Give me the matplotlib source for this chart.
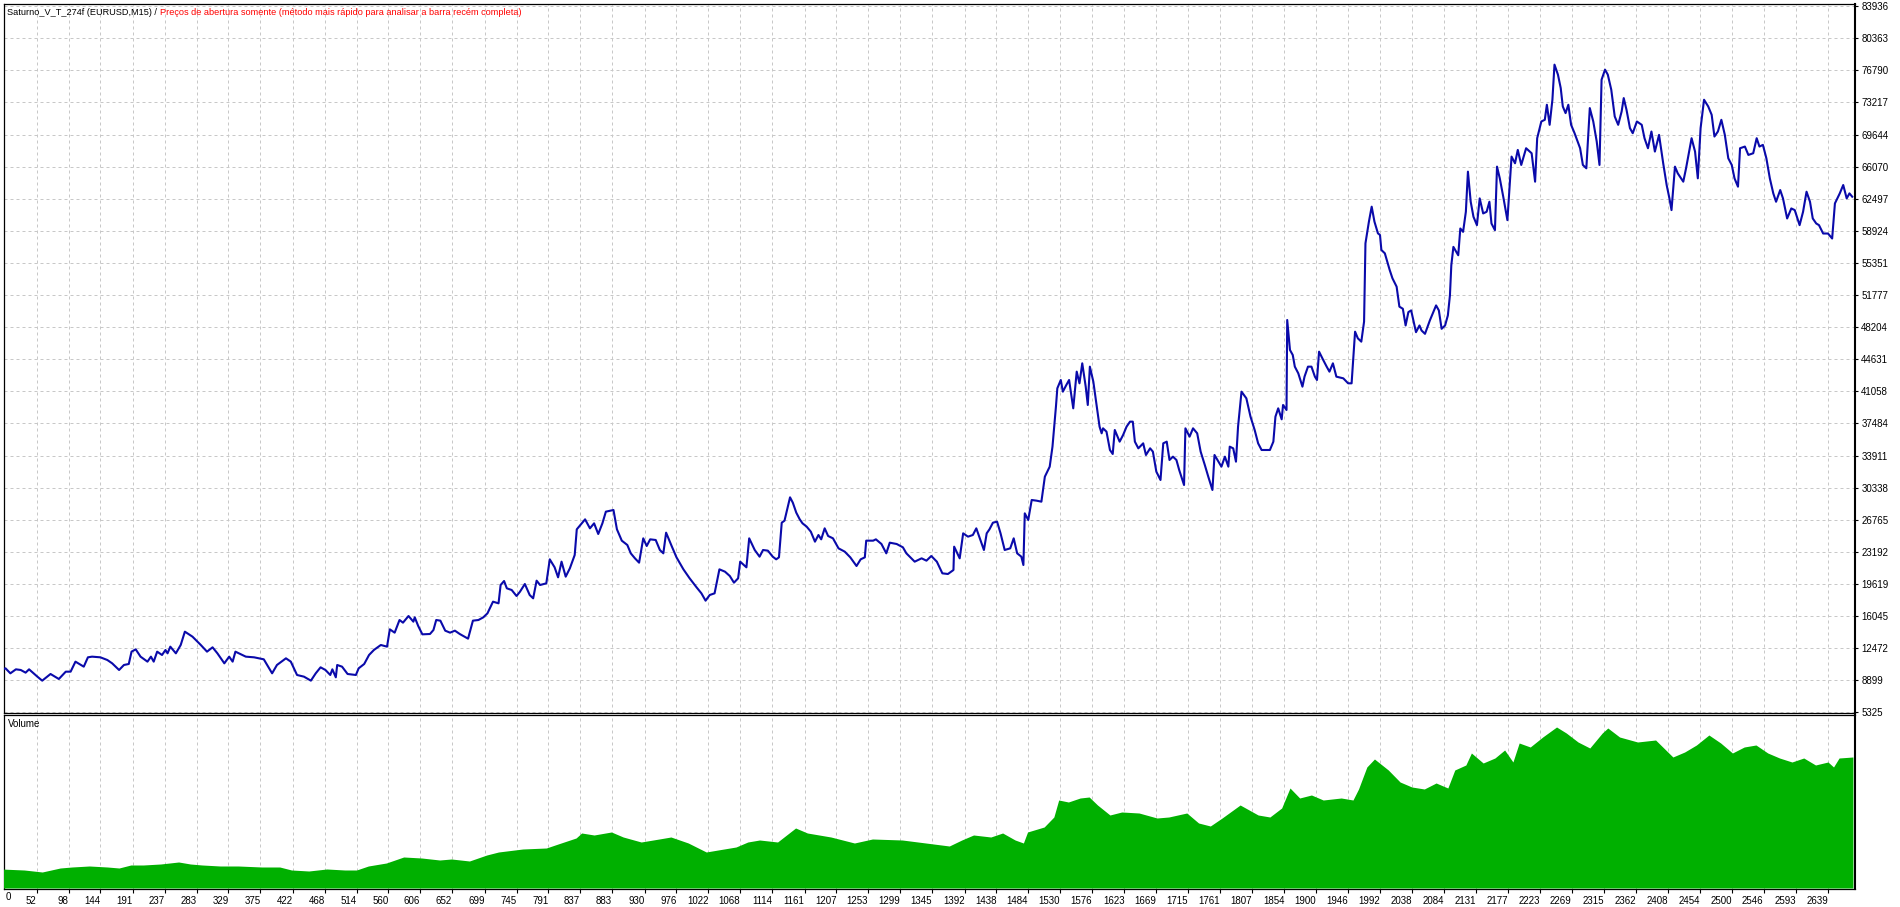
import matplotlib
matplotlib.use('Agg')
import matplotlib.pyplot as plt

plt.rcParams['font.family'] = ['Liberation Sans', 'DejaVu Sans']

trades = [0, 7, 14, 22, 29, 36, 41, 53, 60, 72, 84, 94, 101, 108, 120, 126, 132, 144, 154, 161,
          171, 178, 185, 189, 195, 202, 212, 217, 221, 226, 233, 238, 241, 245, 253, 260, 266, 277, 289, 298,
          306, 313, 323, 330, 335, 339, 354, 366, 380, 392, 399, 412, 419, 428, 438, 448, 455, 462, 469, 476,
          479, 484, 486, 493, 501, 513, 517, 525, 532, 539, 549, 558, 562, 569, 576, 581, 589, 596, 598, 603,
          609, 620, 625, 629, 635, 642, 649, 656, 663, 675, 682, 690, 697, 703, 711, 719, 722, 727, 731, 738,
          745, 750, 757, 764, 769, 774, 779, 788, 793, 800, 805, 810, 816, 822, 829, 832, 844, 851, 857, 863,
          869, 874, 885, 890, 897, 905, 910, 916, 922, 928, 933, 938, 946, 952, 957, 961, 969, 976, 986, 995,
          1005, 1012, 1018, 1024, 1031, 1038, 1046, 1053, 1059, 1065, 1068, 1077, 1081, 1089, 1096, 1101, 1108, 1115, 1120, 1124,
          1128, 1132, 1140, 1144, 1149, 1154, 1158, 1164, 1170, 1176, 1181, 1185, 1190, 1195, 1202, 1210, 1219, 1227, 1236, 1242,
          1248, 1250, 1260, 1264, 1272, 1279, 1284, 1294, 1303, 1308, 1320, 1330, 1337, 1344, 1352, 1360, 1368, 1376, 1377, 1385,
          1390, 1397, 1404, 1409, 1415, 1420, 1424, 1428, 1433, 1439, 1444, 1450, 1458, 1463, 1468, 1474, 1477, 1479, 1484, 1489,
          1496, 1503, 1508, 1515, 1519, 1524, 1526, 1531, 1534, 1539, 1543, 1549, 1554, 1558, 1562, 1567, 1570, 1573, 1578, 1582,
          1587, 1590, 1592, 1597, 1602, 1606, 1609, 1616, 1621, 1626, 1631, 1635, 1638, 1643, 1650, 1654, 1660, 1664, 1669, 1675,
          1679, 1684, 1688, 1693, 1698, 1702, 1709, 1711, 1717, 1722, 1728, 1733, 1739, 1744, 1750, 1753, 1763, 1768, 1773, 1775,
          1780, 1784, 1787, 1792, 1799, 1805, 1811, 1816, 1821, 1833, 1838, 1841, 1845, 1850, 1852, 1857, 1858, 1862, 1866, 1869,
          1874, 1880, 1883, 1888, 1893, 1898, 1901, 1904, 1910, 1915, 1919, 1924, 1929, 1939, 1946, 1951, 1956, 1960, 1965, 1969,
          1971, 1976, 1980, 1984, 1989, 1992, 1994, 1999, 2006, 2010, 2016, 2020, 2025, 2029, 2033, 2037, 2044, 2049, 2052, 2057,
          2064, 2073, 2077, 2081, 2086, 2090, 2093, 2095, 2098, 2105, 2108, 2112, 2116, 2119, 2123, 2127, 2132, 2136, 2141, 2146,
          2150, 2153, 2158, 2161, 2165, 2170, 2176, 2179, 2182, 2187, 2191, 2196, 2203, 2211, 2216, 2219, 2225, 2230, 2233, 2237,
          2241, 2244, 2249, 2253, 2256, 2260, 2264, 2268, 2273, 2281, 2285, 2290, 2295, 2300, 2305, 2309, 2312, 2317, 2321, 2326,
          2331, 2336, 2341, 2344, 2348, 2353, 2357, 2363, 2370, 2374, 2379, 2384, 2389, 2395, 2401, 2406, 2410, 2413, 2418, 2422,
          2430, 2434, 2442, 2447, 2451, 2455, 2460, 2466, 2471, 2475, 2480, 2485, 2490, 2495, 2500, 2504, 2509, 2512, 2519, 2524,
          2531, 2536, 2540, 2545, 2550, 2555, 2560, 2564, 2570, 2574, 2580, 2586, 2591, 2598, 2603, 2608, 2613, 2617, 2622, 2626,
          2632, 2639, 2645, 2649, 2656, 2661, 2666, 2670, 2674]
saldo = [10000, 10232, 9675, 10120, 10046, 9749, 10120, 9304, 8859, 9601, 9044, 9860, 9860, 10974, 10417, 11456, 11530, 11456, 11159, 10788,
         10046, 10603, 10714, 12087, 12346, 11530, 10974, 11530, 10974, 12087, 11716, 12272, 11901, 12643, 11901, 12829, 14312, 13756, 12829, 12087,
         12569, 11901, 10788, 11530, 10974, 12087, 11530, 11456, 11233, 9675, 10603, 11345, 10974, 9490, 9304, 8859, 9675, 10343, 10046, 9490,
         10120, 9230, 10603, 10417, 9601, 9490, 10232, 10714, 11716, 12272, 12829, 12643, 14571, 14200, 15610, 15313, 16055, 15424, 15907, 14942,
         14015, 14052, 14497, 15610, 15536, 14423, 14200, 14423, 14052, 13532, 15536, 15610, 15907, 16352, 17650, 17465, 19505, 19951, 19135, 18949,
         18281, 18763, 19617, 18392, 18021, 19988, 19505, 19691, 22362, 21472, 20359, 22103, 20433, 21360, 22844, 25701, 26814, 25813, 26369, 25182,
         26369, 27668, 27853, 25701, 24440, 23958, 23030, 22474, 21991, 24699, 23846, 24588, 24514, 23401, 23030, 25330, 23846, 22585, 21249, 20248,
         19246, 18578, 17762, 18392, 18578, 21249, 20990, 20507, 19765, 20248, 22103, 21472, 24699, 23401, 22659, 23401, 23327, 22659, 22362, 22585,
         26443, 26666, 29263, 28669, 27556, 26814, 26369, 26002, 25442, 24329, 25070, 24588, 25812, 24959, 24700, 23587, 23216, 22585, 21620, 22362,
         22585, 24440, 24440, 24588, 24069, 23030, 24217, 24069, 23698, 23030, 22103, 22474, 22214, 22733, 22103, 20804, 20730, 21175, 23772, 22474,
         25256, 24885, 25070, 25812, 24514, 23401, 25256, 25701, 26443, 26555, 25256, 23401, 23587, 24700, 23030, 22659, 21731, 27482, 26740, 28966,
         28892, 28780, 31563, 32676, 34902, 39354, 41395, 42323, 41024, 41765, 42323, 39169, 43251, 41952, 44178, 41581, 39540, 43807, 42138, 39912,
         37129, 36387, 36944, 36573, 34532, 34087, 36758, 35460, 36202, 37129, 37686, 37686, 35460, 34718, 35274, 33976, 34718, 34347, 32121, 31193,
         35274, 35460, 33419, 33790, 33419, 32306, 30637, 36944, 36016, 36944, 36387, 34347, 32862, 31564, 30080, 33977, 32677, 33790, 32677, 34903,
         34718, 33233, 37129, 41025, 40283, 38242, 36758, 35274, 34532, 34532, 35460, 38242, 39169, 37945, 39540, 38984, 49001, 45662, 45106, 43807,
         43065, 41581, 42694, 43807, 43807, 42694, 42323, 45477, 44549, 43807, 43251, 44178, 42694, 42508, 41952, 41952, 47702, 46961, 46589, 48816,
         57534, 59946, 61615, 59946, 58647, 58462, 56792, 56421, 54566, 53639, 52711, 50485, 50252, 48391, 49880, 50066, 47646, 48391, 47833, 47461,
         48950, 50624, 50066, 48019, 48391, 49508, 51741, 55090, 57138, 56207, 59185, 58812, 61046, 65512, 62162, 60487, 59557, 62534, 60860, 61046,
         62162, 59743, 58999, 66070, 64768, 62721, 60115, 63651, 67187, 66443, 67931, 66257, 68117, 67559, 64395, 69234, 71095, 71281, 72956, 70723,
         73514, 77422, 76306, 74817, 72770, 72026, 72956, 70723, 69792, 68117, 66257, 65884, 72584, 71095, 68862, 66257, 75748, 76864, 76306, 74631,
         71653, 70723, 72212, 73700, 72398, 70351, 69792, 71095, 70723, 69234, 68117, 69978, 67745, 69606, 66443, 64023, 62534, 61232, 66070, 65326,
         64395, 65884, 69234, 67745, 64768, 70351, 73514, 72770, 71839, 69420, 69978, 71281, 69606, 66999, 66257, 64768, 63837, 68117, 68304, 67373,
         67559, 69234, 68304, 68490, 66999, 64768, 63093, 62162, 63465, 62534, 60301, 61418, 61232, 59557, 61046, 63279, 62162, 60301, 59743, 59557,
         58627, 58627, 58069, 61977, 63093, 64023, 62534, 63093, 62721]

# volume (lotes) por trade
vol_trades = [0, 34, 60, 86, 103, 128, 154, 171, 188, 206, 231, 257, 274, 291, 317, 343, 377, 403, 420, 445,
              471, 497, 514, 531, 557, 582, 608, 634, 651, 677, 702, 719, 754, 788, 805, 831, 839, 857, 882, 899,
              925, 951, 968, 993, 1019, 1036, 1062, 1079, 1096, 1122, 1148, 1165, 1199, 1233, 1259, 1302, 1336, 1370, 1388, 1405,
              1430, 1447, 1465, 1477, 1483, 1507, 1521, 1528, 1542, 1559, 1572, 1584, 1602, 1619, 1644, 1670, 1687, 1713, 1730, 1747,
              1764, 1790, 1816, 1833, 1850, 1862, 1876, 1893, 1910, 1936, 1953, 1961, 1973, 1984, 2004, 2021, 2038, 2056, 2073, 2090,
              2100, 2116, 2124, 2141, 2158, 2172, 2184, 2193, 2209, 2227, 2247, 2261, 2278, 2295, 2313, 2321, 2338, 2364, 2390, 2415,
              2432, 2449, 2467, 2484, 2501, 2518, 2535, 2552, 2569, 2587, 2604, 2621, 2639, 2647, 2655, 2675]
volume = [0.19, 0.18, 0.16, 0.20, 0.21, 0.22, 0.21, 0.20, 0.23, 0.23, 0.24, 0.26, 0.24, 0.23, 0.22, 0.22, 0.21, 0.21, 0.18, 0.17,
          0.19, 0.18, 0.18, 0.22, 0.25, 0.31, 0.30, 0.28, 0.29, 0.27, 0.33, 0.36, 0.39, 0.40, 0.44, 0.50, 0.55, 0.53, 0.56, 0.51,
          0.46, 0.49, 0.51, 0.45, 0.36, 0.38, 0.41, 0.46, 0.48, 0.46, 0.60, 0.55, 0.51, 0.45, 0.49, 0.48, 0.45, 0.42, 0.48, 0.53,
          0.51, 0.55, 0.48, 0.45, 0.56, 0.61, 0.71, 0.88, 0.86, 0.90, 0.91, 0.83, 0.73, 0.76, 0.75, 0.70, 0.71, 0.75, 0.65, 0.62,
          0.70, 0.83, 0.73, 0.71, 0.80, 1.00, 0.90, 0.93, 0.88, 0.90, 0.88, 0.99, 1.21, 1.29, 1.18, 1.06, 1.01, 0.99, 1.05, 1.00,
          1.18, 1.23, 1.35, 1.25, 1.30, 1.38, 1.26, 1.45, 1.41, 1.51, 1.61, 1.55, 1.46, 1.40, 1.55, 1.60, 1.51, 1.46, 1.48, 1.31,
          1.36, 1.43, 1.53, 1.45, 1.35, 1.41, 1.43, 1.35, 1.30, 1.26, 1.30, 1.23, 1.26, 1.21, 1.30, 1.31]

yticks = [5325, 8899, 12472, 16045, 19619, 23192, 26765, 30338, 33911, 37484, 41058, 44631,
          48204, 51777, 55351, 58924, 62497, 66070, 69644, 73217, 76790, 80363, 83936]
xticks = [52, 98, 144, 191, 237, 283, 329, 375, 422, 468, 514, 560, 606, 652, 699, 745, 791, 837, 883,
          930, 976, 1022, 1068, 1114, 1161, 1207, 1253, 1299, 1345, 1392, 1438, 1484, 1530, 1576, 1623, 1669,
          1715, 1761, 1807, 1854, 1900, 1946, 1992, 2038, 2084, 2131, 2177, 2223, 2269, 2315, 2362, 2408,
          2454, 2500, 2546, 2593, 2639]

W, H = 1900, 907

def caixa(esq, topo, dir, base):
    # converte pixels da imagem para fracao da figura
    return [esq / W, 1 - base / H, (dir - esq) / W, (base - topo) / H]

fig = plt.figure(figsize=(W / 100, H / 100), dpi=100)
ax = fig.add_axes(caixa(4, 4, 1855, 713))
axv = fig.add_axes(caixa(4, 715, 1855, 889))

grade = dict(color='#C8C8C8', linestyle=(0, (3, 3)), linewidth=0.72)

# painel do saldo
ax.plot(trades, saldo, color='#0A0AAA', linewidth=1.5, zorder=3)
ax.set_xlim(4.8, 2678)
ax.set_ylim(5259, 84171)
ax.set_xticks(xticks)
ax.set_yticks(yticks)
ax.set_yticklabels([str(v) for v in yticks])
ax.yaxis.tick_right()
ax.tick_params(axis='x', length=0, labelbottom=False)
ax.tick_params(axis='y', direction='out', length=2.5, width=0.8, pad=2, labelsize=7)
ax.grid(True, **grade)
ax.set_axisbelow(True)

# painel do volume
axv.fill_between(vol_trades, volume, 0, color='#00B000', linewidth=0, zorder=3)
axv.set_xlim(4.8, 2678)
axv.set_ylim(-0.01, 1.73)
axv.set_yticks([])
axv.set_xticks(xticks)
axv.set_xticklabels([str(v) for v in xticks], ha='right')
axv.tick_params(axis='x', direction='out', length=3, width=0.8, pad=2, labelsize=7)
axv.grid(True, axis='x', **grade)
axv.set_axisbelow(True)
axv.text(0.002, 0.95, 'Volume', transform=axv.transAxes, fontsize=7, va='center', ha='left')

for a in (ax, axv):
    for s in a.spines.values():
        s.set_linewidth(0.9)
        s.set_color('black')
    a.spines['right'].set_linewidth(1.5)

fig.text(6 / W, 1 - 897 / H, '0', fontsize=7, ha='left', va='center')

t1 = fig.text(7 / W, 1 - 17 / H, 'Saturno_V_T_274f (EURUSD,M15) /', fontsize=6.6, color='black', va='bottom')
ax.annotate('Preços de abertura somente (método mais rápido para analisar a barra recém completa)',
            xy=(1, 0), xycoords=t1, xytext=(2, 0), textcoords='offset points',
            fontsize=6.6, color='#FF0000', va='bottom', ha='left', annotation_clip=False)

fig.savefig('out.png', dpi=100, facecolor='white')
